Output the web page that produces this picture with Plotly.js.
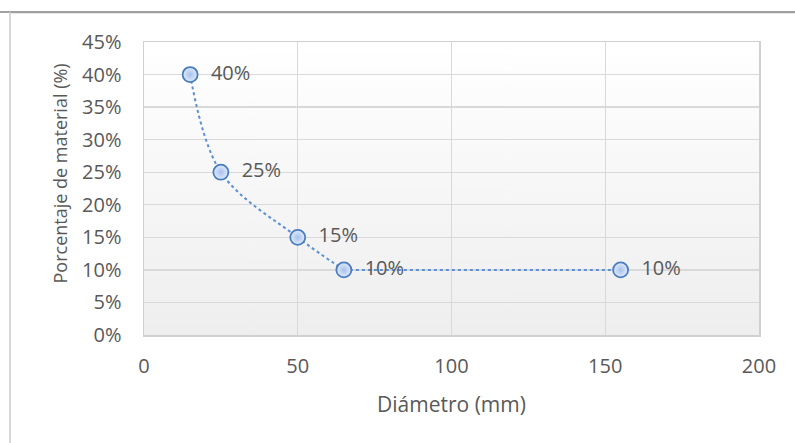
<!DOCTYPE html>
<html>
<head>
<meta charset="utf-8">
<script src="https://cdn.plot.ly/plotly-3.0.1.min.js"></script>
<style>
html,body{margin:0;padding:0;background:#fff;}
#chart{width:795px;height:443px;}
</style>
</head>
<body>
<div id="chart"></div>
<script>
// Data
const diametros = [15, 25, 50, 65, 155];          // Diámetro (mm)
const porcentajes = [0.40, 0.25, 0.15, 0.10, 0.10]; // Porcentaje de material
const etiquetas = ['40%', '25%', '15%', '10%', '10%'];
const xTicks = [0, 50, 100, 150, 200];
const yTicks = [0, 0.05, 0.10, 0.15, 0.20, 0.25, 0.30, 0.35, 0.40, 0.45];
const xTitle = 'Diámetro (mm)';
const yTitle = 'Porcentaje de material (%)';

const W = 795, H = 443;
const M = {l: 144, r: 36, t: 42, b: 108};
const pw = W - M.l - M.r, ph = H - M.t - M.b;
const px = v => (v - M.l) / pw;          // pixel x -> paper x
const py = v => (H - M.b - v) / ph;      // pixel y -> paper y

const txtColor = '#595959';
const fontFam = '"Open Sans", "Noto Sans", sans-serif';
const lineStyle = {dash: 'dot', color: '#5b8fd6', width: 2};

const gradSvg = '<svg xmlns="http://www.w3.org/2000/svg" width="10" height="100" preserveAspectRatio="none">' +
  '<defs><linearGradient id="g" x1="0" y1="0" x2="0" y2="1">' +
  '<stop offset="0" stop-color="#ffffff"/><stop offset="1" stop-color="#eeeeee"/>' +
  '</linearGradient></defs><rect width="10" height="100" fill="url(#g)"/></svg>';

// smoothed part of the connecting line
const curve = {
  type: 'scatter', mode: 'lines',
  x: diametros.slice(0, 4), y: porcentajes.slice(0, 4),
  line: Object.assign({shape: 'spline', smoothing: 1}, lineStyle),
  hoverinfo: 'skip', showlegend: false
};
// flat tail of the connecting line
const tail = {
  type: 'scatter', mode: 'lines',
  x: diametros.slice(3), y: porcentajes.slice(3),
  line: Object.assign({shape: 'linear'}, lineStyle),
  hoverinfo: 'skip', showlegend: false
};
const points = {
  type: 'scatter',
  mode: 'markers+text',
  x: diametros,
  y: porcentajes,
  text: etiquetas.map(t => '\u00a0\u00a0' + t),
  textposition: 'middle right',
  textfont: {family: fontFam, size: 20, color: txtColor},
  marker: {
    size: 15,
    color: '#e2ecfb',
    gradient: {type: 'radial', color: '#a6c0ec'},
    line: {color: '#4a7cc0', width: 1.8}
  },
  cliponaxis: false,
  hoverinfo: 'x+y',
  showlegend: false
};

const layout = {
  width: W, height: H,
  margin: M,
  paper_bgcolor: '#ffffff',
  plot_bgcolor: 'rgba(0,0,0,0)',
  font: {family: fontFam, size: 20, color: txtColor},
  showlegend: false,
  xaxis: {
    range: [0, 200],
    tickvals: xTicks,
    ticktext: xTicks.map(String),
    showgrid: true, gridcolor: '#d9d9d9', gridwidth: 1.3,
    showline: true, linecolor: '#d0d0d0', linewidth: 1.5, mirror: true,
    zeroline: false,
    ticks: '', ticklen: 0,
    ticklabelstandoff: 12,
    tickfont: {family: fontFam, size: 20, color: txtColor},
    title: {text: xTitle, font: {family: fontFam, size: 21, color: txtColor}, standoff: 20},
    fixedrange: true
  },
  yaxis: {
    range: [0, 0.45],
    tickvals: yTicks,
    tickformat: '.0%',
    showgrid: true, gridcolor: '#d9d9d9', gridwidth: 1.3,
    showline: true, linecolor: '#d0d0d0', linewidth: 1.5, mirror: true,
    zeroline: false,
    ticks: '', ticklen: 0,
    ticklabelstandoff: 17,
    tickfont: {family: fontFam, size: 20, color: txtColor},
    fixedrange: true
  },
  annotations: [{
    text: yTitle, textangle: -90,
    xref: 'paper', yref: 'paper', x: px(59), y: py(173.5),
    xanchor: 'center', yanchor: 'middle', showarrow: false,
    font: {family: fontFam, size: 18, color: txtColor}
  }],
  images: [{
    source: 'data:image/svg+xml;charset=utf-8,' + encodeURIComponent(gradSvg),
    xref: 'paper', yref: 'paper', x: 0, y: 1, sizex: 1, sizey: 1,
    sizing: 'stretch', layer: 'below', xanchor: 'left', yanchor: 'top'
  }],
  shapes: [
    // outer frame remnants of the original chart area
    {type: 'line', xref: 'paper', yref: 'paper', x0: px(0), x1: px(W), y0: py(12), y1: py(12),
     line: {color: '#808080', width: 1.6}},
    {type: 'line', xref: 'paper', yref: 'paper', x0: px(10), x1: px(W), y0: py(13.5), y1: py(13.5),
     line: {color: '#e6e6e6', width: 1}},
    {type: 'line', xref: 'paper', yref: 'paper', x0: px(10), x1: px(10), y0: py(12.5), y1: py(H),
     line: {color: '#d9d9d9', width: 2}}
  ]
};

Plotly.newPlot('chart', [curve, tail, points], layout, {staticPlot: true, displayModeBar: false});
</script>
</body>
</html>
